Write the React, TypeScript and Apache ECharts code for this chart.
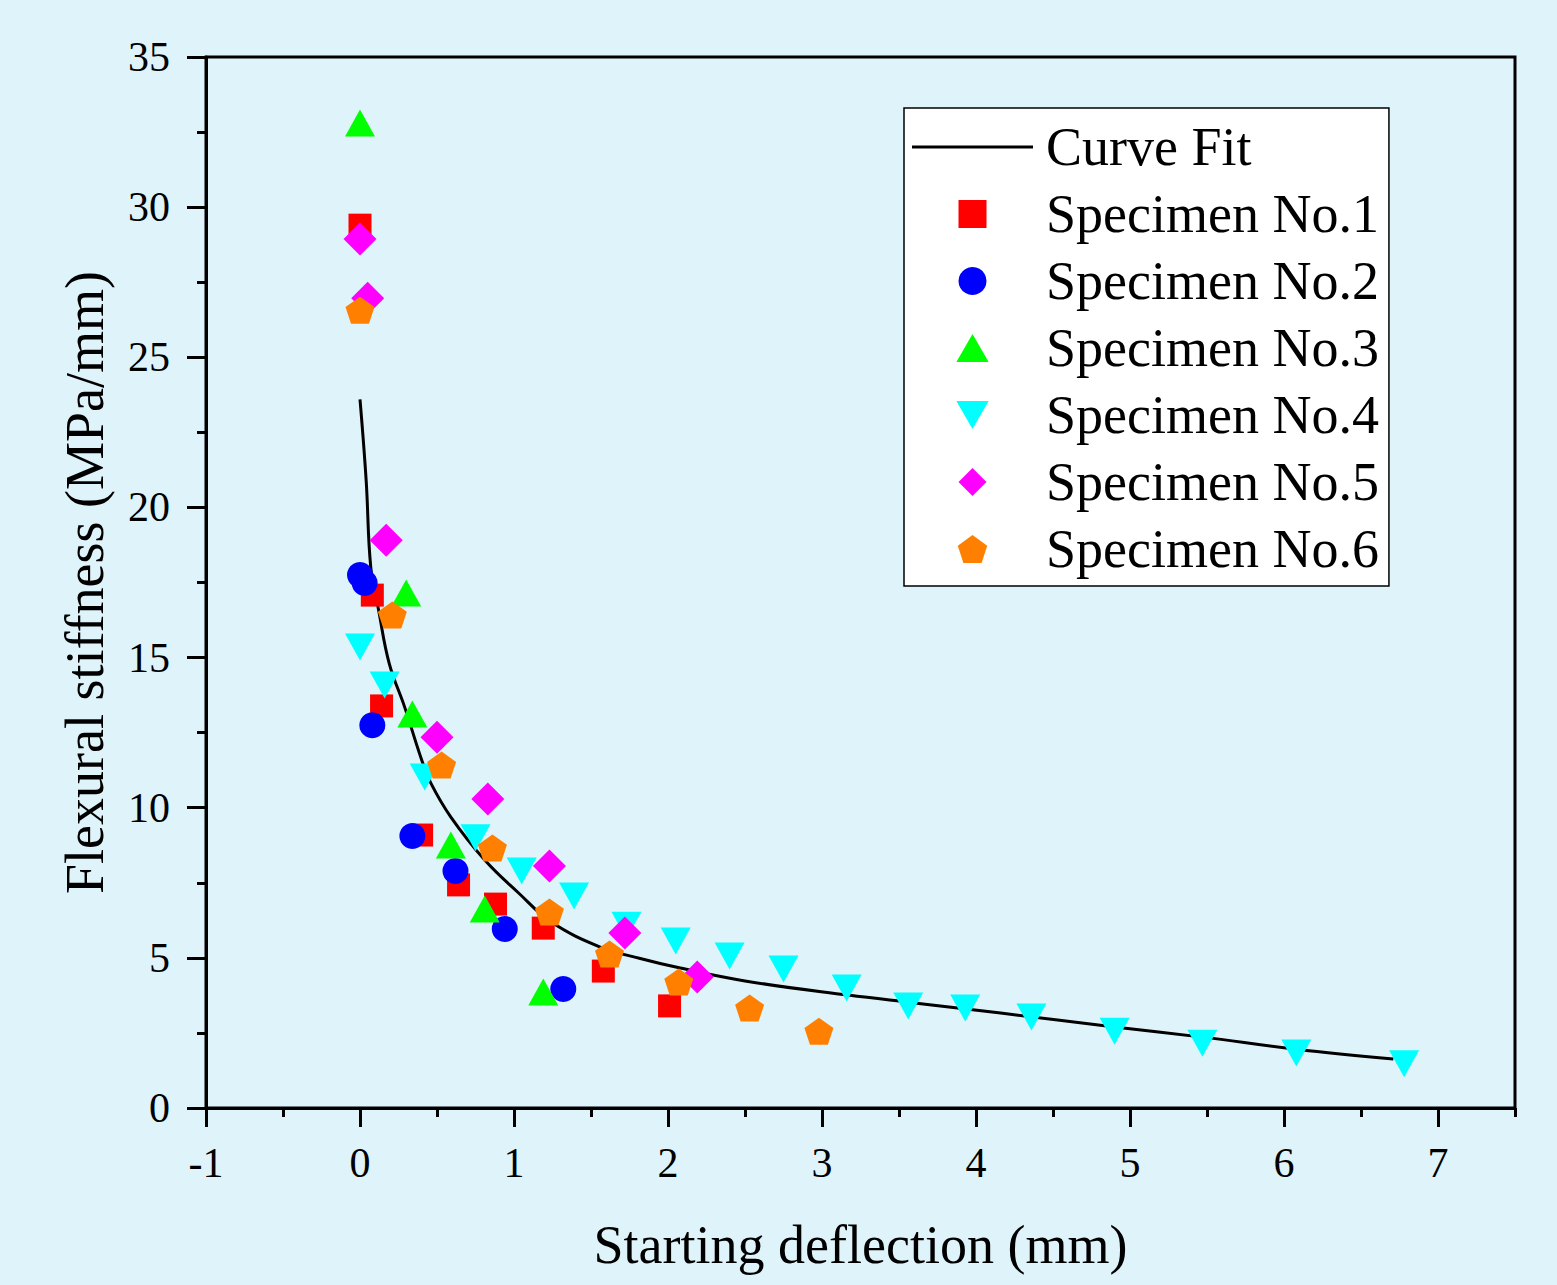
import React, { useEffect, useRef } from "react";
import * as echarts from "echarts";

const curveX = [0, 0.04, 0.07, 0.12, 0.19, 0.29, 0.40, 0.46, 0.59, 0.81, 1.03, 1.24, 1.56, 1.82, 2.08, 2.5, 3.17, 3.6, 4.16, 4.9, 5.47, 6.08, 6.71];
const curveY = [23.6, 20.9, 18.0, 16.6, 14.8, 13.35, 11.6, 10.82, 9.69, 8.26, 7.16, 6.2, 5.36, 4.98, 4.66, 4.23, 3.76, 3.5, 3.16, 2.7, 2.36, 1.96, 1.63];

const spec1X = [0, 0.08, 0.14, 0.40, 0.64, 0.88, 1.19, 1.58, 2.01];
const spec1Y = [29.4, 17.08, 13.39, 9.09, 7.43, 6.79, 5.99, 4.56, 3.40];
const spec2X = [0, 0.03, 0.08, 0.34, 0.62, 0.94, 1.32];
const spec2Y = [17.75, 17.48, 12.75, 9.06, 7.89, 5.96, 3.96];
const spec3X = [0, 0.30, 0.34, 0.59, 0.81, 1.19];
const spec3Y = [32.8, 17.15, 13.12, 8.76, 6.63, 3.86];
const spec4X = [0, 0.16, 0.42, 0.75, 1.05, 1.39, 1.73, 2.05, 2.40, 2.75, 3.16, 3.56, 3.93, 4.36, 4.90, 5.47, 6.08, 6.78];
const spec4Y = [15.35, 14.09, 11.02, 9.0, 7.89, 7.06, 6.09, 5.56, 5.06, 4.63, 4.0, 3.40, 3.33, 3.03, 2.56, 2.16, 1.83, 1.47];
const spec5X = [0, 0.05, 0.17, 0.50, 0.83, 1.23, 1.72, 2.19];
const spec5Y = [28.94, 26.97, 18.91, 12.35, 10.29, 8.06, 5.83, 4.36];
const spec6X = [0, 0.21, 0.53, 0.86, 1.23, 1.62, 2.07, 2.53, 2.98];
const spec6Y = [26.57, 16.42, 11.42, 8.66, 6.53, 5.13, 4.2, 3.33, 2.56];

const xMajorTicks = [-1, 0, 1, 2, 3, 4, 5, 6, 7];
const xMinorTicks = [-0.5, 0.5, 1.5, 2.5, 3.5, 4.5, 5.5, 6.5, 7.5];

const seriesNames = ["Specimen No.1", "Specimen No.2", "Specimen No.3", "Specimen No.4", "Specimen No.5", "Specimen No.6"];
const curveName = "Curve Fit";

const zip = (xs: number[], ys: number[]) => xs.map((x, i) => [x, ys[i]]);

const FONT = "'Liberation Serif', 'Times New Roman', serif";
const SQUARE = "path://M0,0L10,0L10,10L0,10Z";
const UP_TRI = "path://M15,0L30,26L0,26Z";
const DOWN_TRI = "path://M0,0L30,0L15,26Z";
const DIAMOND = "path://M10,0L20,10L10,20L0,10Z";
const PENTAGON = "path://M0,-1L0.951,-0.309L0.588,0.809L-0.588,0.809L-0.951,-0.309Z";
const LINE_ICON = "path://M0,0L121,0L121,3L0,3Z";

export default function App() {
  const ref = useRef<HTMLDivElement>(null);
  useEffect(() => {
    if (!ref.current) return;
    const chart = echarts.init(ref.current, null, { renderer: "svg" });
    const scatterDefs = [
      { x: spec1X, y: spec1Y, color: "#ff0000", symbol: SQUARE, size: [23, 23] },
      { x: spec2X, y: spec2Y, color: "#0000ff", symbol: "circle", size: 26 },
      { x: spec3X, y: spec3Y, color: "#00ff00", symbol: UP_TRI, size: [30, 27] },
      { x: spec4X, y: spec4Y, color: "#00ffff", symbol: DOWN_TRI, size: [30, 27] },
      { x: spec5X, y: spec5Y, color: "#ff00ff", symbol: DIAMOND, size: [33, 33] },
      { x: spec6X, y: spec6Y, color: "#ff8000", symbol: PENTAGON, size: [29, 27] },
    ];
    chart.setOption({
      animation: false,
      backgroundColor: "#dff3fa",
      textStyle: { fontFamily: FONT },
      grid: {
        left: 206, right: 42, top: 57, bottom: 177,
        show: true, borderColor: "#000", borderWidth: 3, backgroundColor: "transparent",
      },
      legend: {
        left: 904, top: 108, orient: "vertical",
        backgroundColor: "#ffffff", borderColor: "#000", borderWidth: 1.5,
        padding: [12, 10, 10, 8],
        itemWidth: 121, itemHeight: 28, itemGap: 13,
        symbolKeepAspect: true,
        textStyle: { fontFamily: FONT, fontSize: 54, color: "#000", padding: [0, 0, 0, 8] },
        data: [
          { name: curveName, icon: LINE_ICON, itemStyle: { color: "#000" } },
          ...seriesNames.map((n, i) => ({ name: n, icon: scatterDefs[i].symbol })),
        ],
      },
      xAxis: [
        {
          type: "value", min: -1, max: 7.5, position: "bottom",
          name: "Starting deflection (mm)", nameLocation: "middle", nameGap: 110,
          nameTextStyle: { fontFamily: FONT, fontSize: 54, color: "#000" },
          axisLine: { show: true, onZero: false, lineStyle: { color: "#000", width: 3 } },
          axisTick: { show: true, inside: false, length: 19, lineStyle: { color: "#000", width: 3 }, customValues: xMajorTicks },
          axisLabel: { show: true, margin: 34, fontFamily: FONT, fontSize: 42, color: "#000", customValues: xMajorTicks },
          splitLine: { show: false },
        },
        {
          type: "value", min: -1, max: 7.5, position: "bottom", offset: 0,
          axisLine: { show: false, onZero: false },
          axisTick: { show: true, inside: false, length: 9, lineStyle: { color: "#000", width: 3 }, customValues: xMinorTicks },
          axisLabel: { show: false },
          splitLine: { show: false },
        },
      ],
      yAxis: {
        type: "value", min: 0, max: 35, interval: 5,
        name: "Flexural stiffness (MPa/mm)", nameLocation: "middle", nameGap: 94,
        nameTextStyle: { fontFamily: FONT, fontSize: 54, color: "#000" },
        axisLine: { show: true, onZero: false, lineStyle: { color: "#000", width: 3 } },
        axisTick: { show: true, inside: false, length: 19, lineStyle: { color: "#000", width: 3 } },
        minorTick: { show: true, splitNumber: 2, length: 9, lineStyle: { color: "#000", width: 3 } },
        axisLabel: { margin: 36, fontFamily: FONT, fontSize: 42, color: "#000" },
        splitLine: { show: false },
        minorSplitLine: { show: false },
      },
      series: [
        {
          name: curveName, type: "line", smooth: 0.4, symbol: "none", showSymbol: false,
          data: zip(curveX, curveY), z: 1,
          lineStyle: { color: "#000", width: 3 }, itemStyle: { color: "#000" },
        },
        ...scatterDefs.map((d, i) => ({
          name: seriesNames[i], type: "scatter", symbol: d.symbol, symbolSize: d.size,
          data: zip(d.x, d.y), z: 2,
          itemStyle: { color: d.color, opacity: 1 },
        })),
      ],
    });
    return () => chart.dispose();
  }, []);
  return <div ref={ref} style={{ position: "absolute", left: 0, top: 0, width: 1557, height: 1285 }} />;
}
